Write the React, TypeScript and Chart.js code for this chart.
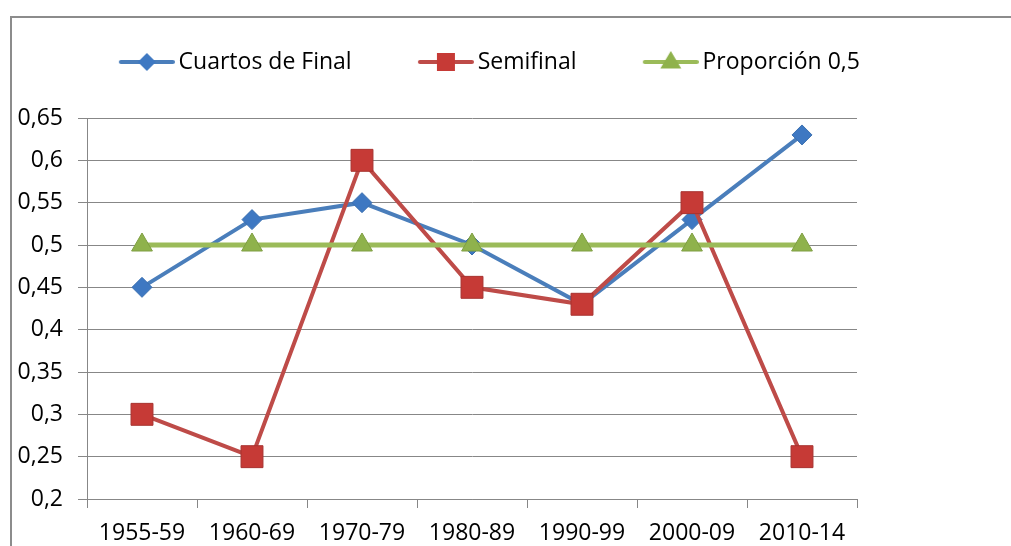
import React, { useEffect, useRef } from 'react';
import { Chart, registerables } from 'chart.js';

Chart.register(...registerables);

const categories = ['1955-59', '1960-69', '1970-79', '1980-89', '1990-99', '2000-09', '2010-14'];
const cuartosValues = [0.45, 0.53, 0.55, 0.5, 0.43, 0.53, 0.63];
const semifinalValues = [0.3, 0.25, 0.6, 0.45, 0.43, 0.55, 0.25];
const proporcionValues = [0.5, 0.5, 0.5, 0.5, 0.5, 0.5, 0.5];
const yTickValues = [0.2, 0.25, 0.3, 0.35, 0.4, 0.45, 0.5, 0.55, 0.6, 0.65];
const seriesNames = ['Cuartos de Final', 'Semifinal', 'Proporción 0,5'];

const BLUE_LINE = '#4A7EBB';
const BLUE_MARK = '#3E78C2';
const RED_LINE = '#BE4B48';
const RED_MARK = '#C63A36';
const GREEN_LINE = '#9BBB59';
const GREEN_MARK = '#8FB24C';
const GRID = '#878787';
const FONT = { family: "'Open Sans', sans-serif", size: 23 };

function makeLegendIcon(kind: string, lineColor: string, markColor: string): HTMLCanvasElement {
  const c = document.createElement('canvas');
  c.width = 120;
  c.height = 30;
  const ctx = c.getContext('2d')!;
  const cy = 15;
  const cx = 92;
  ctx.strokeStyle = lineColor;
  ctx.lineWidth = 4;
  ctx.lineCap = 'round';
  ctx.beginPath();
  ctx.moveTo(66, cy);
  ctx.lineTo(118, cy);
  ctx.stroke();
  ctx.fillStyle = markColor;
  ctx.beginPath();
  if (kind === 'diamond') {
    const r = 9;
    ctx.moveTo(cx, cy - r);
    ctx.lineTo(cx + r, cy);
    ctx.lineTo(cx, cy + r);
    ctx.lineTo(cx - r, cy);
  } else if (kind === 'square') {
    const h = 9;
    ctx.rect(cx - h, cy - h, 2 * h, 2 * h);
  } else {
    const r = 11;
    ctx.moveTo(cx, cy - r);
    ctx.lineTo(cx + r * 0.95, cy + r * 0.6);
    ctx.lineTo(cx - r * 0.95, cy + r * 0.6);
  }
  ctx.closePath();
  ctx.fill();
  return c;
}

const framePlugin = {
  id: 'frame',
  beforeDraw(chart: any) {
    const ctx = chart.ctx;
    ctx.save();
    ctx.strokeStyle = '#8C8C8C';
    ctx.lineWidth = 2;
    ctx.beginPath();
    ctx.moveTo(11, chart.height);
    ctx.lineTo(11, 17);
    ctx.lineTo(chart.width, 17);
    ctx.stroke();
    ctx.restore();
  },
};

export default function App() {
  const ref = useRef<HTMLCanvasElement | null>(null);

  useEffect(() => {
    if (!ref.current) return;
    const icons = [
      makeLegendIcon('diamond', BLUE_LINE, BLUE_MARK),
      makeLegendIcon('square', RED_LINE, RED_MARK),
      makeLegendIcon('triangle', GREEN_LINE, GREEN_MARK),
    ];
    const chart = new Chart(ref.current, {
      type: 'line',
      data: {
        labels: categories,
        datasets: [
          {
            label: seriesNames[0],
            data: cuartosValues,
            borderColor: BLUE_LINE,
            backgroundColor: BLUE_MARK,
            borderWidth: 4,
            pointStyle: 'rectRot',
            pointRadius: 10,
            pointBorderWidth: 1,
            pointBorderColor: '#3A6FB0',
            pointBackgroundColor: BLUE_MARK,
            tension: 0,
            order: 2,
            xAxisID: 'x',
            yAxisID: 'y',
          },
          {
            label: seriesNames[1],
            data: semifinalValues,
            borderColor: RED_LINE,
            backgroundColor: RED_MARK,
            borderWidth: 4,
            pointStyle: 'rect',
            pointRadius: 15.5,
            pointBorderWidth: 1,
            pointBorderColor: '#A83330',
            pointBackgroundColor: RED_MARK,
            tension: 0,
            order: 1,
            xAxisID: 'x',
            yAxisID: 'y',
          },
          {
            label: seriesNames[2],
            data: proporcionValues,
            borderColor: GREEN_LINE,
            backgroundColor: GREEN_MARK,
            borderWidth: 5,
            pointStyle: 'triangle',
            pointRadius: 12,
            pointBorderWidth: 1,
            pointBorderColor: '#7E9E42',
            pointBackgroundColor: GREEN_MARK,
            tension: 0,
            order: 0,
            xAxisID: 'x',
            yAxisID: 'y',
          },
        ],
      },
      options: {
        responsive: false,
        animation: false,
        events: [],
        layout: { padding: { top: 40.5, left: 0, right: 88.5, bottom: 0 } },
        plugins: {
          tooltip: { enabled: false },
          legend: {
            position: 'top',
            labels: {
              usePointStyle: true,
              pointStyleWidth: 104.5,
              padding: 10,
              color: '#000',
              font: FONT,
              generateLabels: (ch: any) =>
                ch.data.datasets.map((ds: any, i: number) => ({
                  text: ds.label,
                  pointStyle: icons[i],
                  fillStyle: 'transparent',
                  strokeStyle: 'transparent',
                  lineWidth: 0,
                  hidden: false,
                  datasetIndex: i,
                  fontColor: '#000',
                })),
            },
          },
        },
        scales: {
          x: {
            type: 'category',
            position: 'bottom',
            offset: true,
            grid: {
              offset: true,
              drawOnChartArea: false,
              drawTicks: true,
              tickLength: 9,
              color: GRID,
            },
            border: { color: GRID, width: 1 },
            ticks: { color: '#000', font: FONT, padding: 12, autoSkip: false, maxRotation: 0 },
            afterFit: (s: any) => {
              s.height = 47;
            },
          },
          xTop: {
            type: 'category',
            position: 'top',
            display: true,
            grid: { display: false },
            border: { display: false },
            ticks: { display: false },
            afterFit: (s: any) => {
              s.height = 34.5;
            },
          },
          y: {
            type: 'linear',
            position: 'left',
            min: 0.2,
            max: 0.65,
            grid: { color: GRID, tickLength: 9 },
            border: { color: GRID, width: 1 },
            ticks: {
              color: '#000',
              font: FONT,
              padding: 15,
              callback: (v: any) => String(Math.round(Number(v) * 100) / 100).replace('.', ','),
            },
            afterBuildTicks: (s: any) => {
              s.ticks = yTickValues.map((v) => ({ value: v }));
            },
            afterFit: (s: any) => {
              s.width = 87;
            },
          },
          yRight: {
            type: 'linear',
            position: 'right',
            display: true,
            grid: { display: false },
            border: { display: false },
            ticks: { display: false },
            afterFit: (s: any) => {
              s.width = 65.5;
            },
          },
        },
      },
      plugins: [framePlugin],
    } as any);
    return () => chart.destroy();
  }, []);

  return (
    <div style={{ position: 'fixed', left: 0, top: 0, width: 1011, height: 546, background: '#fff' }}>
      <canvas ref={ref} width={1011} height={546} style={{ display: 'block' }} />
    </div>
  );
}
